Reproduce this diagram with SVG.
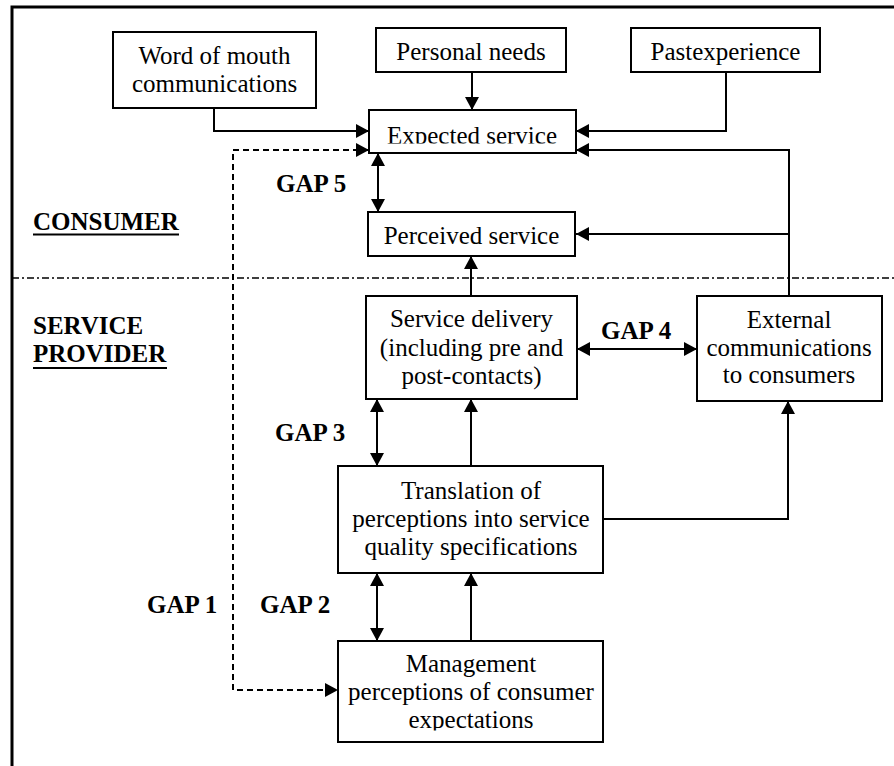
<svg xmlns="http://www.w3.org/2000/svg" width="894" height="766" viewBox="0 0 894 766">
<style>
.box{fill:#fff;stroke:#000;stroke-width:2}
.t{font-family:"Liberation Serif","Times New Roman",serif;font-size:25px;fill:#000;text-anchor:middle}
.g{font-family:"Liberation Serif","Times New Roman",serif;font-size:25px;font-weight:bold;fill:#000}
.c{fill:none;stroke:#000;stroke-width:2}
.arr{marker-end:url(#ah)}
.dbl{marker-start:url(#ah);marker-end:url(#ah)}
.dash{stroke-dasharray:6 4}
</style>
<defs>
<marker id="ah" markerUnits="userSpaceOnUse" markerWidth="13" markerHeight="14" viewBox="0 0 13 14" refX="13" refY="7" orient="auto-start-reverse">
<path d="M0,0 L13,7 L0,14 z" fill="#000"/>
</marker>
<clipPath id="clipExp"><rect x="369" y="110" width="207" height="33.5"/></clipPath>
<clipPath id="clipMgmt"><rect x="338" y="641" width="265" height="89.5"/></clipPath>
</defs>
<rect x="12" y="7" width="900" height="800" fill="#fff" stroke="#000" stroke-width="3"/>
<line x1="12" y1="278" x2="894" y2="278" stroke="#000" stroke-width="1.5" stroke-dasharray="7 3 2 3"/>
<g id="labels">
<text class="g" x="33" y="230">CONSUMER</text>
<line x1="33" y1="234.5" x2="179" y2="234.5" stroke="#000" stroke-width="2"/>
<text class="g" x="33" y="334">SERVICE</text>
<text class="g" x="33" y="362">PROVIDER</text>
<line x1="33" y1="368" x2="167" y2="368" stroke="#000" stroke-width="2"/>
<text class="g" x="276" y="192">GAP 5</text>
<text class="g" x="601" y="339">GAP 4</text>
<text class="g" x="275" y="441">GAP 3</text>
<text class="g" x="260" y="613">GAP 2</text>
<text class="g" x="147" y="613">GAP 1</text>
</g>
<g id="connectors">
<polyline class="c arr" points="214,108 214,131 369,131"/>
<polyline class="c arr" points="472,72 472,110"/>
<polyline class="c arr" points="726,72 726,131 576,131"/>
<polyline class="c arr" points="789,296 789,150 576,150"/>
<polyline class="c arr" points="789,234 576,234"/>
<polyline class="c dbl" points="378,153 378,212"/>
<polyline class="c arr" points="471,296 471,256"/>
<polyline class="c dbl" points="577,349 697,349"/>
<polyline class="c dbl" points="377,399 377,466"/>
<polyline class="c arr" points="471,466 471,399"/>
<polyline class="c arr" points="603,519 788,519 788,401"/>
<polyline class="c dbl" points="377,573 377,641"/>
<polyline class="c arr" points="471,641 471,573"/>
<polyline class="c dbl dash" points="369,150 233,150 233,690 338,690"/>
</g>
<g id="word-of-mouth">
<rect class="box" x="113" y="32" width="203" height="76"/>
<text class="t" x="214.5" y="64">Word of mouth</text>
<text class="t" x="214.5" y="92">communications</text>
</g>
<g id="personal-needs">
<rect class="box" x="376" y="28" width="190" height="44"/>
<text class="t" x="471" y="60">Personal needs</text>
</g>
<g id="past-experience">
<rect class="box" x="631" y="28" width="189" height="44"/>
<text class="t" x="725.5" y="60">Pastexperience</text>
</g>
<g id="expected-service">
<rect class="box" x="369" y="110" width="207" height="43"/>
<text class="t" x="472" y="144" clip-path="url(#clipExp)">Expected service</text>
</g>
<g id="perceived-service">
<rect class="box" x="368" y="212" width="207" height="44"/>
<text class="t" x="471.5" y="244">Perceived service</text>
</g>
<g id="service-delivery">
<rect class="box" x="366" y="296" width="211" height="103"/>
<text class="t" x="471.5" y="327">Service delivery</text>
<text class="t" x="471.5" y="356">(including pre and</text>
<text class="t" x="471.5" y="384">post-contacts)</text>
</g>
<g id="external-communications">
<rect class="box" x="697" y="296" width="185" height="105"/>
<text class="t" x="789" y="328">External</text>
<text class="t" x="789" y="356">communications</text>
<text class="t" x="789" y="383">to consumers</text>
</g>
<g id="translation">
<rect class="box" x="338" y="466" width="265" height="107"/>
<text class="t" x="471" y="499">Translation of</text>
<text class="t" x="471" y="527">perceptions into service</text>
<text class="t" x="471" y="555">quality specifications</text>
</g>
<g id="management-perceptions">
<rect class="box" x="338" y="641" width="265" height="101"/>
<text class="t" x="471" y="672">Management</text>
<text class="t" x="471" y="700">perceptions of consumer</text>
<text class="t" x="471" y="728" clip-path="url(#clipMgmt)">expectations</text>
</g>
</svg>
